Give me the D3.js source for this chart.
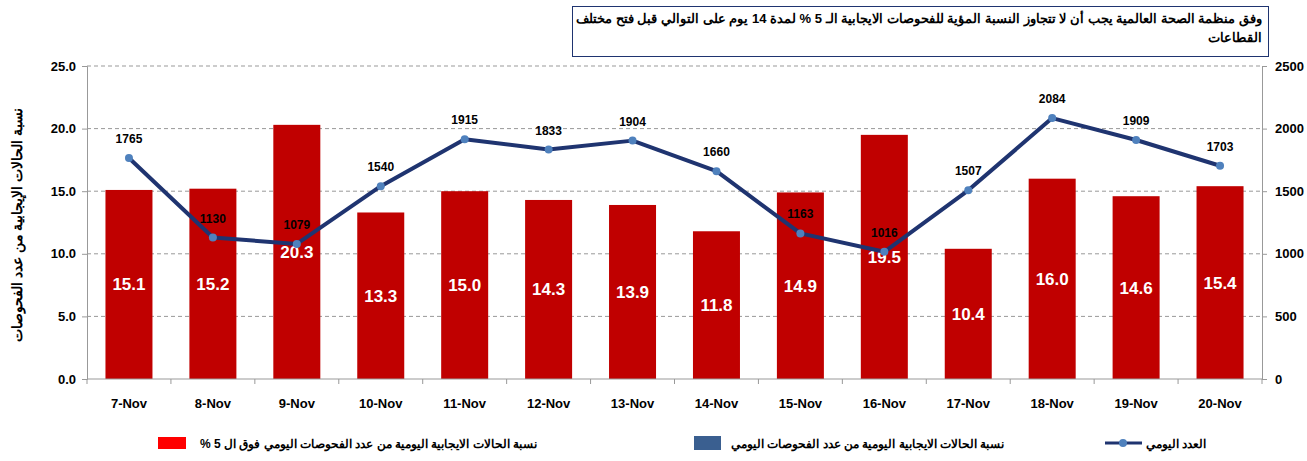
<!DOCTYPE html>
<html>
<head>
<meta charset="utf-8">
<script src="https://cdn.jsdelivr.net/npm/d3@7"></script>
<style>
  body { margin: 0; background: #fff; }
  #wrap { position: relative; width: 1307px; height: 461px; }
  #note {
    position: absolute; left: 572px; top: 6px; width: 687px; height: 47px;
    border: 1px solid #1f3470; direction: rtl; text-align: right;
    font-family: "Liberation Sans", Arial, sans-serif; font-weight: bold;
    font-size: 13px; line-height: 19px; padding: 2px 6px 0 2px; color: #000;
    white-space: nowrap; overflow: hidden;
  }
  text { font-family: "Liberation Sans Narrow", "Liberation Sans", Arial, sans-serif; }
</style>
</head>
<body>
<div id="wrap">
  <div id="note">وفق منظمة الصحة العالمية يجب أن لا تتجاوز النسبة المؤية للفحوصات الايجابية الـ 5 % لمدة 14 يوم على التوالي قبل فتح مختلف<br>القطاعات</div>
</div>
<script>
// --- Data ---
const days = ["7-Nov","8-Nov","9-Nov","10-Nov","11-Nov","12-Nov","13-Nov","14-Nov","15-Nov","16-Nov","17-Nov","18-Nov","19-Nov","20-Nov"];
const rates = [15.1, 15.2, 20.3, 13.3, 15.0, 14.3, 13.9, 11.8, 14.9, 19.5, 10.4, 16.0, 14.6, 15.4];
const counts = [1765, 1130, 1079, 1540, 1915, 1833, 1904, 1660, 1163, 1016, 1507, 2084, 1909, 1703];
const leftTicks = [0, 5, 10, 15, 20, 25];
const rightTicks = [0, 500, 1000, 1500, 2000, 2500];

// --- Setup SVG ---
const W = 1307, H = 461;
const plot = { left: 87, right: 1262, top: 66, bottom: 379 };

const svg = d3.select("#wrap").append("svg")
  .attr("width", W).attr("height", H)
  .style("position", "absolute").style("left", 0).style("top", 0);

const x = d3.scaleBand().domain(days).range([plot.left, plot.right]).paddingInner(0.44).paddingOuter(0.22);
const xStep = d3.scaleBand().domain(days).range([plot.left, plot.right]);
const yL = d3.scaleLinear().domain([0, 25]).range([plot.bottom, plot.top]);
const yR = d3.scaleLinear().domain([0, 2500]).range([plot.bottom, plot.top]);

// --- Gridlines ---
svg.append("g").selectAll("line").data(leftTicks.slice(1)).enter().append("line")
  .attr("x1", plot.left).attr("x2", plot.right)
  .attr("y1", d => yL(d)).attr("y2", d => yL(d))
  .attr("stroke", "#999").attr("stroke-dasharray", "4,3");

// --- Bars ---
svg.append("g").selectAll("rect").data(rates).enter().append("rect")
  .attr("x", (d, i) => x(days[i]))
  .attr("width", x.bandwidth())
  .attr("y", d => yL(d))
  .attr("height", d => yL(0) - yL(d))
  .attr("fill", "#c00000");

svg.append("g").selectAll("text").data(rates).enter().append("text")
  .attr("x", (d, i) => x(days[i]) + x.bandwidth() / 2)
  .attr("y", d => (yL(d) + yL(0)) / 2 + 6)
  .attr("text-anchor", "middle")
  .attr("font-size", "17px").attr("font-weight", "bold")
  .attr("fill", "#fff")
  .text(d => d.toFixed(1));

// --- Axes ---
const axL = svg.append("g").attr("transform", `translate(${plot.left},0)`)
  .call(d3.axisLeft(yL).tickValues(leftTicks).tickFormat(d3.format(".1f")).tickSize(5).tickPadding(6));
const axR = svg.append("g").attr("transform", `translate(${plot.right},0)`)
  .call(d3.axisRight(yR).tickValues(rightTicks).tickFormat(d3.format("d")).tickSize(5).tickPadding(8));
const axB = svg.append("g").attr("transform", `translate(0,${plot.bottom})`)
  .call(d3.axisBottom(xStep).tickSize(0).tickPadding(20));

// category separators on x axis
svg.append("g").selectAll("line").data(d3.range(days.length + 1)).enter().append("line")
  .attr("x1", i => plot.left + i * xStep.step()).attr("x2", i => plot.left + i * xStep.step())
  .attr("y1", plot.bottom).attr("y2", plot.bottom + 5)
  .attr("stroke", "#999");

[axL, axR, axB].forEach(a => {
  a.select(".domain").attr("stroke", "#999");
  a.selectAll(".tick line").attr("stroke", "#999");
  a.selectAll(".tick text").attr("font-size", "13px").attr("font-weight", "bold")
    .attr("fill", "#000").style("font-family", '"Liberation Sans Narrow", "Liberation Sans", Arial, sans-serif');
});
axB.select(".domain").attr("d", `M${plot.left},0H${plot.right}`);

// --- Line ---
const cx = i => xStep(days[i]) + xStep.bandwidth() / 2;
const line = d3.line().x((d, i) => cx(i)).y(d => yR(d));
svg.append("path").datum(counts)
  .attr("d", line).attr("fill", "none")
  .attr("stroke", "#1f3470").attr("stroke-width", 4).attr("stroke-linejoin", "round");
svg.append("g").selectAll("circle").data(counts).enter().append("circle")
  .attr("cx", (d, i) => cx(i)).attr("cy", d => yR(d)).attr("r", 4)
  .attr("fill", "#4f81bd");
svg.append("g").selectAll("text").data(counts).enter().append("text")
  .attr("x", (d, i) => cx(i)).attr("y", d => yR(d) - 15)
  .attr("text-anchor", "middle").attr("font-size", "12px").attr("font-weight", "bold")
  .attr("fill", "#000")
  .text(d => d);

// --- Left axis title ---
svg.append("text")
  .attr("transform", "translate(22,225) rotate(-90)")
  .attr("text-anchor", "middle").attr("font-size", "14px").attr("font-weight", "bold")
  .style("font-family", '"Liberation Sans", Arial, sans-serif')
  .attr("direction", "rtl")
  .text("نسبة الحالات الإيجابية من عدد الفحوصات");

// --- Legend ---
const lg = svg.append("g").style("font-family", '"Liberation Sans", Arial, sans-serif');
lg.append("rect").attr("x", 158).attr("y", 437).attr("width", 28).attr("height", 12).attr("fill", "#ff0000");
lg.append("text").attr("x", 200).attr("y", 448).attr("direction", "rtl").attr("text-anchor", "end")
  .attr("font-size", "12px").attr("font-weight", "bold")
  .text("نسبة الحالات الايجابية اليومية من عدد الفحوصات اليومي فوق ال 5 %");
lg.append("rect").attr("x", 694).attr("y", 436).attr("width", 27).attr("height", 14).attr("fill", "#3a5f90");
lg.append("text").attr("x", 731).attr("y", 448).attr("direction", "rtl").attr("text-anchor", "end")
  .attr("font-size", "12px").attr("font-weight", "bold")
  .text("نسبة الحالات الايجابية اليومية من عدد الفحوصات اليومي");
lg.append("line").attr("x1", 1105).attr("x2", 1142).attr("y1", 443).attr("y2", 443)
  .attr("stroke", "#1f3470").attr("stroke-width", 3);
lg.append("circle").attr("cx", 1123).attr("cy", 443).attr("r", 4).attr("fill", "#4f81bd");
lg.append("text").attr("x", 1146).attr("y", 448).attr("direction", "rtl").attr("text-anchor", "end")
  .attr("font-size", "12px").attr("font-weight", "bold")
  .text("العدد اليومي");
</script>
</body>
</html>
